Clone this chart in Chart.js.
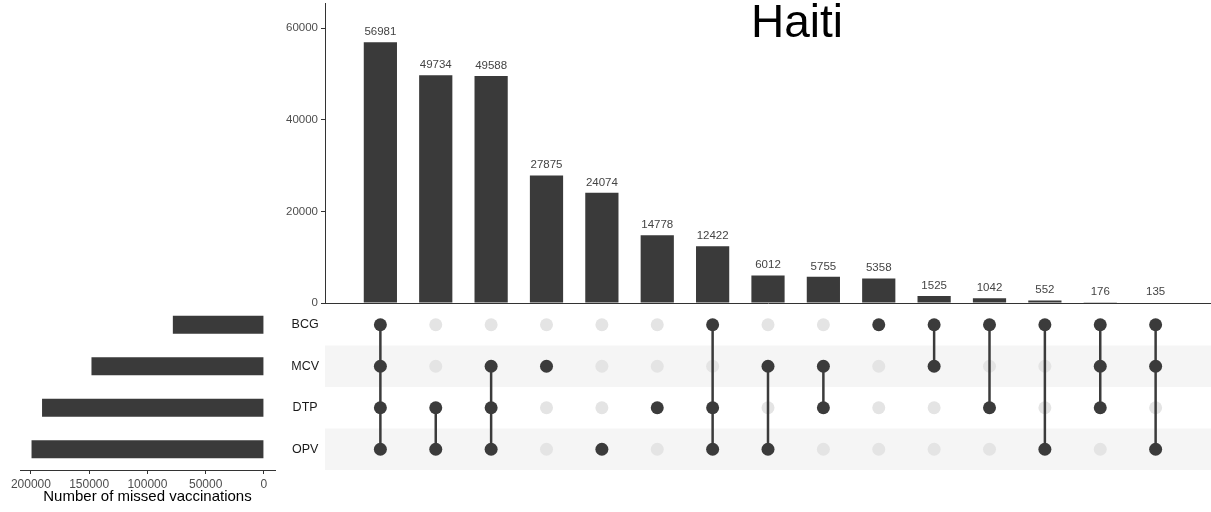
<!DOCTYPE html>
<html>
<head>
<meta charset="utf-8">
<script src="https://cdn.jsdelivr.net/npm/chart.js@4/dist/chart.umd.min.js"></script>
<style>
  html, body { margin: 0; padding: 0; background: #fff; }
  #wrap { position: relative; width: 1211px; height: 512px; }
  #wrap canvas { position: absolute; left: 0; top: 0; }
</style>
</head>
<body>
<div id="wrap">
  <canvas id="chart-counts" width="1211" height="512"></canvas>
  <canvas id="chart-matrix" width="1211" height="512"></canvas>
  <canvas id="chart-sizes" width="1211" height="512"></canvas>
</div>
<script>
// UpSet plot - Haiti missed vaccinations
const chartTitle = 'Haiti';
const setNames = ['BCG', 'MCV', 'DTP', 'OPV'];
const setSizes = [78191, 148047, 190476, 199498];
const intersectionCounts = [56981, 49734, 49588, 27875, 24074, 14778, 12422, 6012, 5755, 5358, 1525, 1042, 552, 176, 135];
const intersectionSets = [
    ['BCG', 'MCV', 'DTP', 'OPV'], ['DTP', 'OPV'], ['MCV', 'DTP', 'OPV'], ['MCV'], ['OPV'],
    ['DTP'], ['BCG', 'DTP', 'OPV'], ['MCV', 'OPV'], ['MCV', 'DTP'], ['BCG'],
    ['BCG', 'MCV'], ['BCG', 'DTP'], ['BCG', 'OPV'], ['BCG', 'MCV', 'DTP'], ['BCG', 'MCV', 'OPV']
];
const countTicks = [0, 20000, 40000, 60000];
const sizeTicks = [0, 50000, 100000, 150000, 200000];

const barColor = '#3a3a3a';
const dotColor = '#3b3b3b';
const emptyDotColor = '#e4e4e4';
const stripeColor = '#f5f5f5';
const axisColor = '#333';
const tickColor = '#4d4d4d';

Chart.defaults.font.family = '"Liberation Sans", Arial, sans-serif';

const noPad = s => { s.paddingTop = 0; s.paddingBottom = 0; s.paddingLeft = 0; s.paddingRight = 0; };
const plainNumber = v => String(v);

const valueLabels = {
    id: 'valueLabels',
    afterDatasetsDraw(chart) {
        const ctx = chart.ctx;
        ctx.save();
        ctx.font = '11.5px "Liberation Sans", Arial, sans-serif';
        ctx.fillStyle = '#444';
        ctx.textAlign = 'center';
        ctx.textBaseline = 'alphabetic';
        chart.getDatasetMeta(0).data.forEach((bar, i) => {
            ctx.fillText(String(intersectionCounts[i]), bar.x, bar.y - 7);
        });
        ctx.restore();
    }
};

const bigTitle = {
    id: 'bigTitle',
    afterDraw(chart) {
        const ctx = chart.ctx;
        ctx.save();
        ctx.font = '46px "Liberation Sans", Arial, sans-serif';
        ctx.fillStyle = '#000';
        ctx.textAlign = 'center';
        ctx.fillText(chartTitle, 797, 37);
        ctx.restore();
    }
};

const rowStripes = {
    id: 'rowStripes',
    beforeDatasetsDraw(chart) {
        const {ctx, chartArea, scales} = chart;
        const band = scales.y.height / setNames.length;
        ctx.save();
        ctx.fillStyle = stripeColor;
        setNames.forEach((name, i) => {
            if (i % 2 === 1) {
                const yc = scales.y.getPixelForValue(i);
                ctx.fillRect(chartArea.left, yc - band / 2, chartArea.right - chartArea.left, band);
            }
        });
        ctx.restore();
    }
};

// intersection size bars
new Chart(document.getElementById('chart-counts'), {
    type: 'bar',
    data: {
        datasets: [{
            data: intersectionCounts.map((v, i) => ({x: i + 1, y: v})),
            backgroundColor: barColor,
            barPercentage: 0.6,
            categoryPercentage: 1
        }]
    },
    options: {
        responsive: false,
        animation: false,
        events: [],
        layout: {autoPadding: false, padding: {left: 265, right: 0, top: 3, bottom: 209}},
        plugins: {legend: {display: false}, tooltip: {enabled: false}},
        scales: {
            x: {
                type: 'linear', min: 0, max: 16, offset: false,
                ticks: {display: false},
                grid: {display: false},
                border: {color: axisColor},
                afterFit: s => { s.height = 0; noPad(s); }
            },
            y: {
                min: 0, max: 65528,
                afterBuildTicks: s => { s.ticks = countTicks.map(v => ({value: v})); },
                ticks: {font: {size: 11.5}, color: tickColor, padding: 3, autoSkip: false, callback: plainNumber},
                grid: {drawOnChartArea: false, drawTicks: true, tickLength: 4, color: axisColor},
                border: {color: axisColor},
                afterFit: s => { s.width = 60; noPad(s); }
            }
        }
    },
    plugins: [valueLabels, bigTitle]
});

// matrix of dots
const greyDots = [];
const darkDots = [];
const links = [];
intersectionSets.forEach((sets, i) => {
    setNames.forEach(name => {
        (sets.includes(name) ? darkDots : greyDots).push({x: i + 1, y: name});
    });
    if (sets.length > 1) {
        const idx = sets.map(s => setNames.indexOf(s));
        links.push({
            type: 'scatter',
            showLine: true,
            data: [{x: i + 1, y: setNames[Math.min(...idx)]}, {x: i + 1, y: setNames[Math.max(...idx)]}],
            borderColor: dotColor,
            borderWidth: 2.5,
            pointRadius: 0,
            order: 1
        });
    }
});

new Chart(document.getElementById('chart-matrix'), {
    type: 'scatter',
    data: {
        labels: setNames,
        datasets: [
            {data: darkDots, backgroundColor: dotColor, borderWidth: 0, pointRadius: 6.5, order: 0},
            ...links,
            {data: greyDots, backgroundColor: emptyDotColor, borderWidth: 0, pointRadius: 6.5, order: 2}
        ]
    },
    options: {
        responsive: false,
        animation: false,
        events: [],
        layout: {autoPadding: false, padding: {left: 285, right: 0, top: 304, bottom: 42}},
        plugins: {legend: {display: false}, tooltip: {enabled: false}},
        scales: {
            x: {type: 'linear', min: 0, max: 16, display: false},
            y: {
                type: 'category', labels: setNames, offset: true,
                ticks: {font: {size: 12.5}, color: '#1a1a1a', padding: 6, crossAlign: 'center'},
                grid: {display: false, drawTicks: false},
                border: {display: false},
                afterFit: s => { s.width = 40; noPad(s); }
            }
        }
    },
    plugins: [rowStripes]
});

// set size bars
new Chart(document.getElementById('chart-sizes'), {
    type: 'bar',
    data: {
        labels: setNames,
        datasets: [{
            data: setSizes,
            backgroundColor: barColor,
            barPercentage: 0.43,
            categoryPercentage: 1
        }]
    },
    options: {
        indexAxis: 'y',
        responsive: false,
        animation: false,
        events: [],
        layout: {autoPadding: false, padding: {left: 20, right: 936, top: 304, bottom: 2}},
        plugins: {legend: {display: false}, tooltip: {enabled: false}},
        scales: {
            y: {display: false},
            x: {
                reverse: true, min: -9500, max: 209400,
                afterBuildTicks: s => { s.ticks = sizeTicks.map(v => ({value: v})); },
                ticks: {font: {size: 12}, color: tickColor, padding: 3, autoSkip: false, maxRotation: 0, callback: plainNumber},
                grid: {drawOnChartArea: false, drawTicks: true, tickLength: 4, color: axisColor},
                border: {color: axisColor},
                title: {display: true, text: 'Number of missed vaccinations', font: {size: 15}, color: '#000', padding: {top: 0, bottom: 4}},
                afterFit: s => { s.height = 40; noPad(s); }
            }
        }
    }
});
</script>
</body>
</html>
